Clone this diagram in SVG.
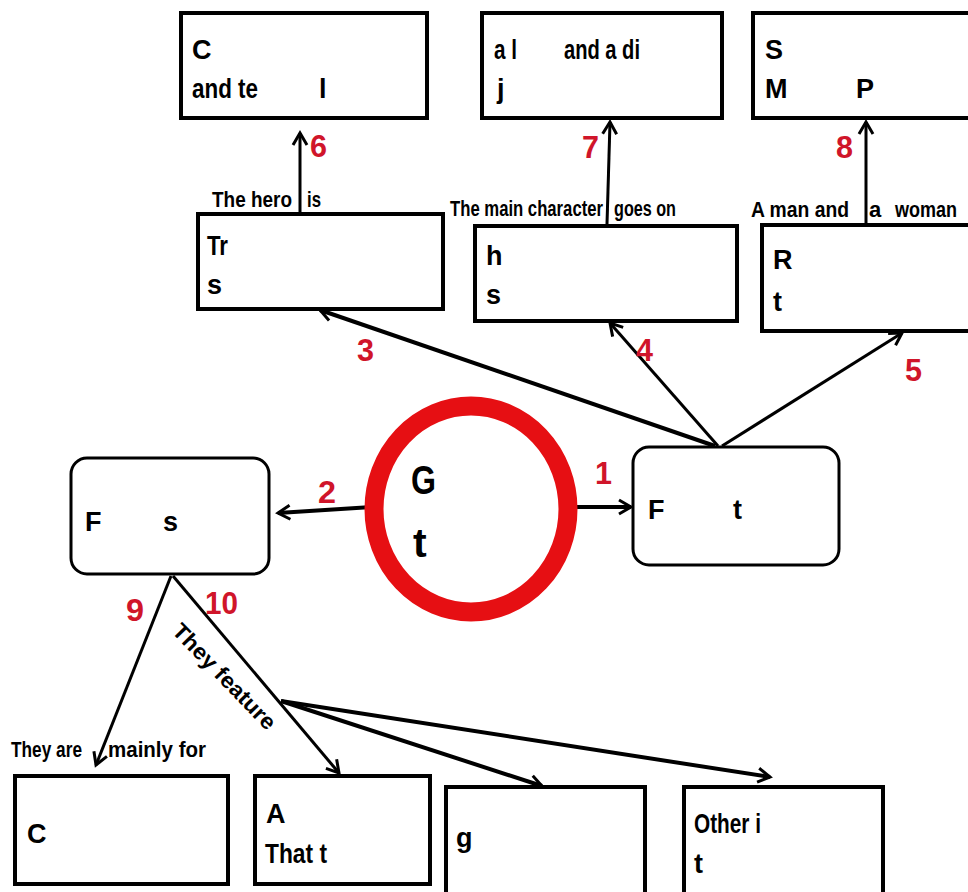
<svg xmlns="http://www.w3.org/2000/svg" width="968" height="892" viewBox="0 0 968 892">
<style>
.bx{fill:#fff;stroke:#000;stroke-width:4}
.rb{fill:#fff;stroke:#000;stroke-width:3}
.t{font-family:"Liberation Sans",Arial,sans-serif;font-weight:bold;font-size:27px;fill:#000}
.lb{font-family:"Liberation Sans",Arial,sans-serif;font-weight:bold;font-size:22px;fill:#000}
.n{font-family:"Liberation Sans",Arial,sans-serif;font-weight:bold;font-size:31px;fill:#d0152a}
.big{font-family:"Liberation Sans",Arial,sans-serif;font-weight:bold;font-size:41px;fill:#000}
.c{fill:none;stroke:#000;stroke-width:3}
.c4{fill:none;stroke:#000;stroke-width:4}
</style>
<defs>
<marker id="ah" markerUnits="userSpaceOnUse" markerWidth="30" markerHeight="30" viewBox="-15 -15 30 30" refX="0" refY="0" orient="auto">
<path d="M-12,-7 L0,0 L-12,7" fill="none" stroke="#000" stroke-width="3"/>
</marker>
</defs>

<g id="connectors">
<line class="c" x1="300" y1="213" x2="300" y2="133" marker-end="url(#ah)"/>
<line class="c" x1="607" y1="224" x2="610" y2="122" marker-end="url(#ah)"/>
<line class="c" x1="866" y1="224" x2="866" y2="122" marker-end="url(#ah)"/>
<line class="c4" x1="715" y1="446" x2="320" y2="310" marker-end="url(#ah)"/>
<line class="c" x1="718" y1="446" x2="610" y2="323" marker-end="url(#ah)"/>
<line class="c" x1="722" y1="446" x2="902" y2="333" marker-end="url(#ah)"/>
<line class="c4" x1="576" y1="507" x2="631" y2="507" marker-end="url(#ah)"/>
<line class="c4" x1="372" y1="507" x2="278" y2="513" marker-end="url(#ah)"/>
<line class="c" x1="171" y1="576" x2="96" y2="765" marker-end="url(#ah)"/>
<line class="c" x1="173" y1="576" x2="339" y2="773" marker-end="url(#ah)"/>
<line class="c4" x1="281" y1="701" x2="542" y2="786" marker-end="url(#ah)"/>
<line class="c4" x1="281" y1="701" x2="770" y2="777" marker-end="url(#ah)"/>
<text class="n" x="310" y="157" textLength="17" lengthAdjust="spacingAndGlyphs">6</text>
<text class="n" x="582" y="158" textLength="17" lengthAdjust="spacingAndGlyphs">7</text>
<text class="n" x="836" y="158" textLength="17" lengthAdjust="spacingAndGlyphs">8</text>
<text class="n" x="357" y="361" textLength="17" lengthAdjust="spacingAndGlyphs">3</text>
<text class="n" x="636" y="361" textLength="17" lengthAdjust="spacingAndGlyphs">4</text>
<text class="n" x="905" y="381" textLength="17" lengthAdjust="spacingAndGlyphs">5</text>
<text class="n" x="595" y="484" textLength="17" lengthAdjust="spacingAndGlyphs">1</text>
<text class="n" x="318" y="503" textLength="18" lengthAdjust="spacingAndGlyphs">2</text>
<text class="n" x="126" y="621" textLength="18" lengthAdjust="spacingAndGlyphs">9</text>
<text class="n" x="205" y="614" textLength="33" lengthAdjust="spacingAndGlyphs">10</text>
<text class="lb" x="212" y="207" textLength="80" lengthAdjust="spacingAndGlyphs">The hero</text>
<text class="lb" x="307" y="207" textLength="14" lengthAdjust="spacingAndGlyphs">is</text>
<text class="lb" x="450" y="216" textLength="153" lengthAdjust="spacingAndGlyphs">The main character</text>
<text class="lb" x="614" y="216" textLength="62" lengthAdjust="spacingAndGlyphs">goes on</text>
<text class="lb" x="751" y="217" textLength="98" lengthAdjust="spacingAndGlyphs">A man and</text>
<text class="lb" x="869" y="217">a</text>
<text class="lb" x="895" y="217" textLength="62" lengthAdjust="spacingAndGlyphs">woman</text>
<text class="lb" x="11" y="757" textLength="71" lengthAdjust="spacingAndGlyphs">They are</text>
<text class="lb" x="108" y="757" textLength="98" lengthAdjust="spacingAndGlyphs">mainly for</text>
<text class="lb" transform="translate(171,632) rotate(46)" textLength="138" lengthAdjust="spacingAndGlyphs">They feature</text>
</g>

<g id="node-circle">
<ellipse cx="471" cy="509" rx="97" ry="103" fill="#fff" stroke="#e60f13" stroke-width="19"/>
<text class="big" x="411" y="494" textLength="25" lengthAdjust="spacingAndGlyphs">G</text>
<text class="big" x="413" y="557">t</text>
</g>

<g id="node-top1">
<rect class="bx" x="181" y="13" width="246" height="105"/>
<text class="t" x="192" y="59">C</text>
<text class="t" x="192" y="98" textLength="66" lengthAdjust="spacingAndGlyphs">and te</text>
<text class="t" x="319" y="98">l</text>
</g>
<g id="node-top2">
<rect class="bx" x="482" y="13" width="240" height="105"/>
<text class="t" x="494" y="59" textLength="23" lengthAdjust="spacingAndGlyphs">a l</text>
<text class="t" x="564" y="59" textLength="76" lengthAdjust="spacingAndGlyphs">and a di</text>
<text class="t" x="497" y="98">j</text>
</g>
<g id="node-top3">
<rect class="bx" x="753" y="13" width="220" height="105"/>
<text class="t" x="765" y="59">S</text>
<text class="t" x="765" y="98">M</text>
<text class="t" x="856" y="98">P</text>
</g>

<g id="node-mid1">
<rect class="bx" x="198" y="214" width="245" height="95"/>
<text class="t" x="207" y="255" textLength="21" lengthAdjust="spacingAndGlyphs">Tr</text>
<text class="t" x="207" y="294">s</text>
</g>
<g id="node-mid2">
<rect class="bx" x="475" y="226" width="262" height="95"/>
<text class="t" x="486" y="265">h</text>
<text class="t" x="486" y="304">s</text>
</g>
<g id="node-mid3">
<rect class="bx" x="762" y="225" width="210" height="106"/>
<text class="t" x="773" y="269">R</text>
<text class="t" x="773" y="311">t</text>
</g>

<g id="node-right">
<rect class="rb" x="633" y="447" width="206" height="118" rx="16" ry="16"/>
<text class="t" x="648" y="519">F</text>
<text class="t" x="733" y="519">t</text>
</g>
<g id="node-left">
<rect class="rb" x="71" y="458" width="198" height="116" rx="16" ry="16"/>
<text class="t" x="85" y="531">F</text>
<text class="t" x="163" y="531">s</text>
</g>

<g id="node-b1">
<rect class="bx" x="15" y="776" width="213" height="108"/>
<text class="t" x="27" y="843">C</text>
</g>
<g id="node-b2">
<rect class="bx" x="255" y="776" width="175" height="108"/>
<text class="t" x="266" y="823">A</text>
<text class="t" x="265" y="863" textLength="62" lengthAdjust="spacingAndGlyphs">That t</text>
</g>
<g id="node-b3">
<rect class="bx" x="446" y="787" width="199" height="110"/>
<text class="t" x="456" y="847">g</text>
</g>
<g id="node-b4">
<rect class="bx" x="684" y="787" width="199" height="110"/>
<text class="t" x="694" y="833" textLength="67" lengthAdjust="spacingAndGlyphs">Other i</text>
<text class="t" x="694" y="873">t</text>
</g>
</svg>
